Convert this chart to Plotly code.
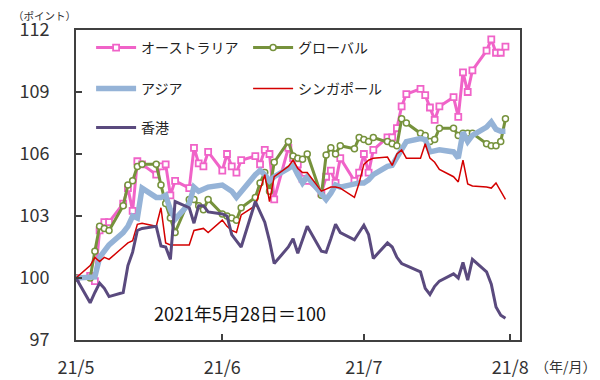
import plotly.graph_objects as go

dates = [
    "2021-05-01", "2021-05-04", "2021-05-05", "2021-05-06", "2021-05-07", "2021-05-08",
    "2021-05-11", "2021-05-12", "2021-05-13", "2021-05-14", "2021-05-15",
    "2021-05-18", "2021-05-19", "2021-05-20", "2021-05-21", "2021-05-22",
    "2021-05-25", "2021-05-26", "2021-05-27", "2021-05-28", "2021-05-29",
    "2021-06-01", "2021-06-02", "2021-06-03", "2021-06-04", "2021-06-05",
    "2021-06-08", "2021-06-09", "2021-06-10", "2021-06-11", "2021-06-12",
    "2021-06-15", "2021-06-16", "2021-06-17", "2021-06-18", "2021-06-19",
    "2021-06-22", "2021-06-23", "2021-06-24", "2021-06-25", "2021-06-26",
    "2021-06-29", "2021-06-30", "2021-07-01", "2021-07-02", "2021-07-03",
    "2021-07-06", "2021-07-07", "2021-07-08", "2021-07-09", "2021-07-10",
    "2021-07-13", "2021-07-14", "2021-07-15", "2021-07-16", "2021-07-17",
    "2021-07-20", "2021-07-21", "2021-07-22", "2021-07-23", "2021-07-24",
    "2021-07-27", "2021-07-28", "2021-07-29", "2021-07-30", "2021-07-31",
]

australia = [
    100.0, 100.1, 99.85, 102.3, 102.7, 102.7,
    103.6, 104.35, 103.25, 105.65, 105.5,
    105.0, 105.4, 105.5, 104.0, 104.7,
    104.35, 106.3, 105.55, 105.4, 106.1,
    105.2, 106.0, 105.4, 105.1, 105.7,
    105.9, 105.5, 106.2, 106.0, 103.8,
    106.3, 105.8, 105.5, 104.8, 104.7,
    104.1, 104.9, 105.2, 104.6, 105.8,
    104.7, 105.1, 106.0, 105.1, 106.2,
    106.8, 106.8, 107.25, 108.3, 108.9,
    109.15, 108.85, 108.25, 107.65, 108.3,
    108.75, 107.8, 109.95, 109.0, 110.05,
    111.0, 111.55, 110.9, 110.9, 111.2,
]

global_idx = [
    100.0, 100.0, 101.3, 102.5, 102.4, 102.3,
    103.5, 104.5, 104.7, 105.4, 105.5,
    105.5, 104.5, 103.6, 102.9, 102.2,
    103.8, 103.8, 103.5, 103.3, 103.8,
    103.1, 103.0, 102.9, 102.8, 103.4,
    103.9, 104.6, 105.1, 104.2, 105.6,
    106.6, 105.9, 105.8, 105.75, 106.0,
    104.0, 105.95, 106.3, 106.0, 106.4,
    106.25, 106.8, 106.7, 106.6, 106.8,
    106.6, 106.5, 106.4, 107.7, 107.5,
    107.0, 106.9, 106.6, 106.7, 107.25,
    107.25, 106.9, 107.0, 107.0, 107.0,
    106.5, 106.4, 106.4, 106.6, 107.7,
]

asia = [
    100.0, 100.0, 100.05, 101.0, 101.3, 101.6,
    102.2, 102.5, 103.0, 102.9, 104.35,
    103.9, 103.9, 104.0, 103.3, 102.85,
    103.6, 104.4, 104.2, 104.3, 104.4,
    104.5, 104.35, 104.2, 103.9, 104.2,
    105.0, 105.2, 105.0, 104.7, 104.9,
    105.3, 105.45, 105.0, 104.6, 104.9,
    104.1, 103.8, 104.1, 104.5, 104.4,
    104.6, 104.6, 104.6, 104.75, 105.0,
    105.4, 105.45, 105.85, 106.3, 106.6,
    106.75, 106.7, 106.1, 106.15, 106.2,
    106.1, 105.8, 107.05, 106.6, 106.9,
    107.3, 107.55, 107.2, 107.1, 107.1,
]

singapore = [
    100.0, 100.6, 101.0, 100.8, 101.0, 100.9,
    101.5, 101.7, 101.8, 102.6, 102.65,
    102.5, 103.4, 101.7, 101.6, 101.6,
    101.6, 102.3, 102.35, 102.4, 102.2,
    102.8, 102.5, 102.3, 102.2, 103.05,
    103.5, 104.2, 105.0, 103.7, 104.9,
    105.4, 105.7, 105.3, 105.1, 105.1,
    104.2, 104.3, 104.4, 104.4, 104.35,
    103.9, 104.6, 105.5, 105.7, 105.8,
    105.85, 105.45, 106.0, 106.2, 105.8,
    105.8, 106.5, 105.8, 105.6, 105.25,
    104.9, 104.65, 105.7, 104.55, 104.45,
    104.4, 104.35, 104.6, 104.2, 103.8,
]

hongkong = [
    100.0, 98.8, 99.3, 99.75, 99.5, 99.1,
    99.3, 100.6, 101.25, 102.3, 102.4,
    102.5, 101.55, 101.5, 100.9, 103.7,
    103.4, 102.65, 103.5, 103.5, 103.2,
    103.1, 103.0, 102.1, 101.8, 101.5,
    103.7, 103.2, 102.7, 101.8, 100.7,
    101.5, 101.9, 101.2, 101.8, 102.5,
    101.3, 101.25, 101.9, 102.6, 102.2,
    101.85, 102.2, 102.55, 102.1, 100.95,
    101.7, 101.5, 101.0, 100.7, 100.6,
    100.3, 99.5, 99.2, 99.6, 99.85,
    100.2, 100.0, 100.75, 99.9, 100.9,
    100.3, 99.7, 98.6, 98.2, 98.05,
]

y_ticks = [97, 100, 103, 106, 109, 112]
x_tickvals = ["2021-05-01", "2021-06-01", "2021-07-01", "2021-08-01"]
x_ticktext = ["21/5", "21/6", "21/7", "21/8"]

FONT = "Noto Sans CJK JP"

fig = go.Figure()
fig.add_trace(go.Scatter(
    x=dates, y=australia, name="オーストラリア", mode="lines+markers",
    line=dict(color="#F063C8", width=3),
    marker=dict(symbol="square", size=6, color="white", line=dict(color="#F063C8", width=1.8)),
    legend="legend",
))
fig.add_trace(go.Scatter(
    x=dates, y=global_idx, name="グローバル", mode="lines+markers",
    line=dict(color="#76923C", width=3),
    marker=dict(symbol="circle", size=6, color="white", line=dict(color="#76923C", width=1.5)),
    legend="legend",
))
fig.add_trace(go.Scatter(
    x=dates, y=asia, name="アジア", mode="lines",
    line=dict(color="#95B3D7", width=5.5),
    legend="legend2",
))
fig.add_trace(go.Scatter(
    x=dates, y=singapore, name="シンガポール", mode="lines",
    line=dict(color="#D40000", width=1.5),
    legend="legend2",
))
fig.add_trace(go.Scatter(
    x=dates, y=hongkong, name="香港", mode="lines",
    line=dict(color="#5A4A7E", width=3),
    legend="legend3",
))

leg_common = dict(
    orientation="h", xanchor="left", yanchor="middle",
    font=dict(family=FONT, size=14, color="#222222"),
    bgcolor="rgba(0,0,0,0)", itemwidth=40,
    entrywidth=102, entrywidthmode="pixels",
    itemclick=False, itemdoubleclick=False,
)

# the page body adds an 8px offset, so the figure is sized to fit the window
fig.update_layout(
    width=592, height=372,
    margin=dict(l=68, r=80, t=22, b=40, autoexpand=False),
    paper_bgcolor="white", plot_bgcolor="white",
    font=dict(family=FONT, size=18, color="#333333"),
    showlegend=True,
    legend=dict(x=0.034, y=0.942, **leg_common),
    legend2=dict(x=0.034, y=0.81, **leg_common),
    legend3=dict(x=0.034, y=0.684, **leg_common),
    xaxis=dict(
        type="date", automargin=False,
        range=["2021-05-01", "2021-08-03 02:00"],
        tickvals=x_tickvals, ticktext=x_ticktext,
        ticks="inside", ticklen=6, tickcolor="#404040", tickwidth=1.5,
        showline=True, linecolor="#404040", linewidth=2, mirror=True,
        showgrid=False, zeroline=False,
        tickfont=dict(family=FONT, size=18, color="#333333"),
        ticklabelstandoff=10,
    ),
    yaxis=dict(
        range=[97, 112], tickvals=y_ticks, automargin=False,
        ticks="inside", ticklen=6, tickcolor="#404040", tickwidth=1.5,
        showline=True, linecolor="#404040", linewidth=2, mirror=True,
        showgrid=False, zeroline=False,
        tickfont=dict(family=FONT, size=18, color="#333333"),
        ticklabelstandoff=21,
    ),
    annotations=[
        dict(text="（ポイント）", xref="paper", yref="paper", x=-0.147, y=1.046,
             xanchor="left", yanchor="middle", showarrow=False,
             font=dict(family=FONT, size=10.5, color="#333333")),
        dict(text="（年/月）", xref="paper", yref="paper", x=1.029, y=-0.083,
             xanchor="left", yanchor="middle", showarrow=False,
             font=dict(family=FONT, size=14, color="#333333")),
        dict(text="2021年5月28日＝100", xref="paper", yref="paper", x=0.369, y=0.087,
             xanchor="center", yanchor="middle", showarrow=False,
             font=dict(family=FONT, size=18, color="#111111")),
    ],
)

fig.write_html("out.html")
